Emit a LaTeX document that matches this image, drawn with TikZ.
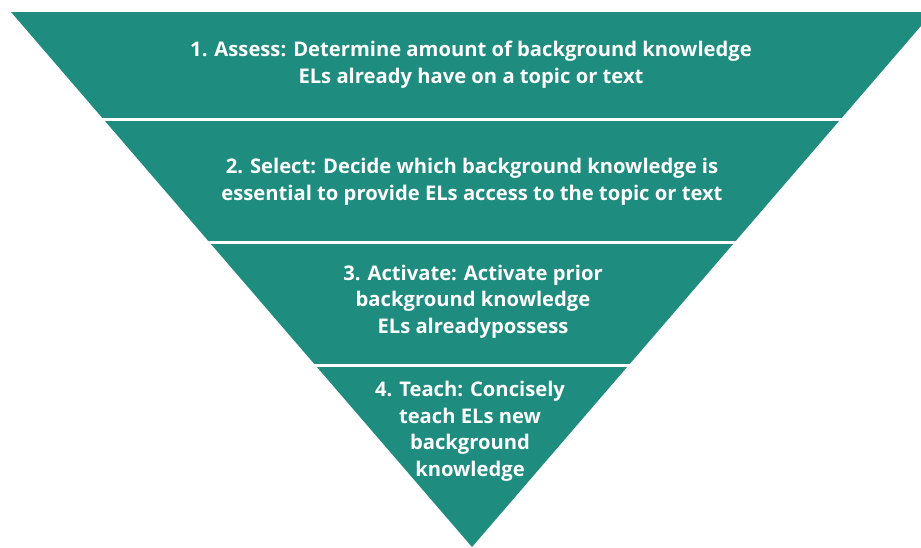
\documentclass[tikz,border=0pt]{standalone}
\usepackage{fontspec}
\setmainfont{Open Sans}
\usepackage{tikz}
\definecolor{teal}{HTML}{1E8C7E}

\begin{document}
\begin{tikzpicture}[x=1pt,y=-1pt,font=\bfseries\fontsize{20.2}{26.5}\selectfont,
  steptext/.style={white,align=center}]
  \useasboundingbox (0,0) rectangle (921,547);
  \clip (0,0) rectangle (921,547);
  \fill[teal] (11,12) -- (933,12) -- (472,547) -- cycle;
  \foreach \y in {119.5,242.5,365.5}{\draw[white,line width=3pt] (0,\y) -- (921,\y);}
  \node[steptext] (assess) at (471,64.5) {1. Assess: Determine amount of background knowledge\\ELs already have on a topic or text};
  \node[steptext] (select) at (472,181.5) {2. Select: Decide which background knowledge is\\essential to provide ELs access to the topic or text};
  \node[steptext] (activate) at (473,301.5) {3. Activate: Activate prior\\background knowledge\\ELs alreadypossess};
  \node[steptext] (teach) at (470,431) {4. Teach: Concisely\\teach ELs new\\background\\knowledge};
\end{tikzpicture}
\end{document}
